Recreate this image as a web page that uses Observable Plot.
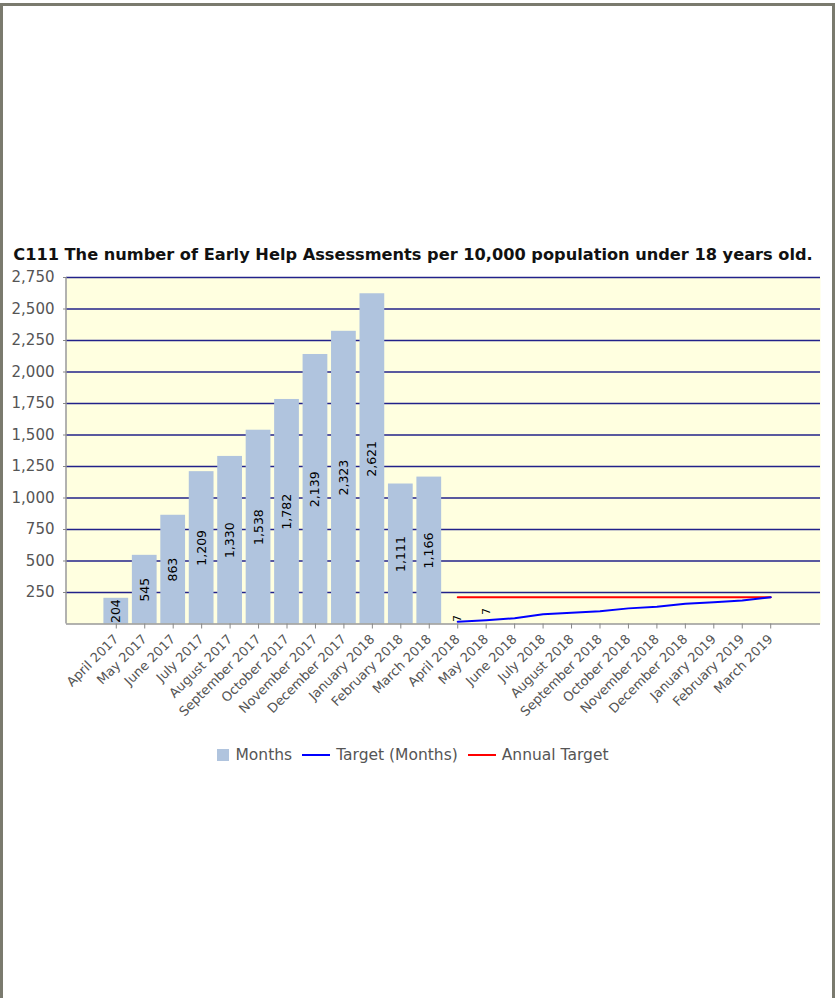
<!DOCTYPE html>
<html>
<head>
<meta charset="utf-8">
<script src="https://cdn.jsdelivr.net/npm/d3@7"></script>
<script src="https://cdn.jsdelivr.net/npm/@observablehq/plot@0.6"></script>
<style>
  html, body { margin: 0; padding: 0; background: #fff; }
  body { width: 835px; height: 998px; position: relative; overflow: hidden; font-family: "DejaVu Sans", sans-serif; }
  #frame { position: absolute; left: 0; top: 3px; width: 829px; height: 1000px; border: 3px solid #7a7a6e; border-bottom: none; }
  #title { position: absolute; left: 0; width: 826px; top: 245px; text-align: center; font-weight: bold; font-size: 16.2px; color: #111; white-space: nowrap; }
  #chart { position: absolute; left: 0; top: 270px; }
  #legend { position: absolute; left: 0; width: 826px; top: 746px; display: flex; justify-content: center; align-items: center; font-size: 15.5px; color: #555; }
  .sw { width: 12px; height: 12px; background: #b0c4de; margin-right: 6px; }
  .ln { width: 28px; height: 0; border-top: 2px solid; margin: 0 6px 0 10px; }
</style>
</head>
<body>
<div id="frame"></div>
<div id="title">C111 The number of Early Help Assessments per 10,000 population under 18 years old.</div>
<div id="chart"></div>
<div id="legend"></div>
<script>
const months = ["April 2017","May 2017","June 2017","July 2017","August 2017","September 2017","October 2017","November 2017","December 2017","January 2018","February 2018","March 2018","April 2018","May 2018","June 2018","July 2018","August 2018","September 2018","October 2018","November 2018","December 2018","January 2019","February 2019","March 2019"];
const barMonths = months.slice(0, 12);
const barValues = [204, 545, 863, 1209, 1330, 1538, 1782, 2139, 2323, 2621, 1111, 1166];
const targetMonths = months.slice(12);
const targetValues = [18, 30, 46, 78, 90, 102, 124, 136, 160, 172, 186, 212];
const annualTargetValue = 212;
const smallLabelMonths = ["April 2018", "May 2018"];
const smallLabelValues = [44, 99];
const smallLabelTexts = ["7", "7"];
const yTicks = [250, 500, 750, 1000, 1250, 1500, 1750, 2000, 2250, 2500, 2750];
const seriesNames = ["Months", "Target (Months)", "Annual Target"];

const bars = barMonths.map((m, i) => ({month: m, value: barValues[i]}));
const target = targetMonths.map((m, i) => ({month: m, value: targetValues[i]}));
const annual = targetMonths.map(m => ({month: m, value: annualTargetValue}));
const small = smallLabelMonths.map((m, i) => ({month: m, value: smallLabelValues[i], label: smallLabelTexts[i]}));
const fmt = d3.format(",");

const leftLine = (index, scales, values, dims) => {
  const g = document.createElementNS("http://www.w3.org/2000/svg", "line");
  g.setAttribute("x1", dims.marginLeft); g.setAttribute("x2", dims.marginLeft);
  g.setAttribute("y1", dims.marginTop); g.setAttribute("y2", dims.height - dims.marginBottom);
  g.setAttribute("stroke", "#999"); g.setAttribute("stroke-width", 1.5);
  return g;
};

const chart = Plot.plot({
  width: 835,
  height: 464,
  marginLeft: 66,
  marginRight: 15,
  marginTop: 7,
  marginBottom: 110.5,
  style: {fontFamily: "DejaVu Sans, sans-serif", background: "transparent", overflow: "visible"},
  x: {domain: months, type: "band", paddingInner: 0.13, paddingOuter: 1.315, round: false, label: null},
  y: {domain: [0, 2750], label: null},
  marks: [
    Plot.frame({fill: "#ffffe0", stroke: null}),
    Plot.gridY(yTicks, {stroke: "#22228a", strokeOpacity: 1, strokeWidth: 1.6}),
    Plot.barY(bars, {x: "month", y: "value", fill: "#b0c4de"}),
    Plot.text(bars, {x: "month", y: d => d.value / 2, text: d => fmt(d.value), rotate: -90, fontSize: 12.5, fill: "#000"}),
    Plot.line(annual, {x: "month", y: "value", stroke: "#ff0000", strokeWidth: 2}),
    Plot.line(target, {x: "month", y: "value", stroke: "#0000ff", strokeWidth: 2}),
    Plot.text(small, {x: "month", y: "value", text: "label", rotate: -90, fontSize: 11, fill: "#000"}),
    Plot.ruleY([0], {stroke: "#999", strokeWidth: 1.5}),
    leftLine,
    Plot.axisY(yTicks, {tickSize: 3, tickPadding: 9, fontSize: 15, fill: "#555", stroke: "#888", tickFormat: fmt, label: null}),
    Plot.axisX({tickSize: 5, tickRotate: -45, fontSize: 13, fill: "#555", stroke: "#888", label: null, tickPadding: 8})
  ]
});
document.getElementById("chart").appendChild(chart);

const legend = document.getElementById("legend");
legend.innerHTML =
  `<div class="sw"></div><span>${seriesNames[0]}</span>` +
  `<div class="ln" style="border-color:#0000ff"></div><span>${seriesNames[1]}</span>` +
  `<div class="ln" style="border-color:#ff0000"></div><span>${seriesNames[2]}</span>`;
</script>
</body>
</html>
